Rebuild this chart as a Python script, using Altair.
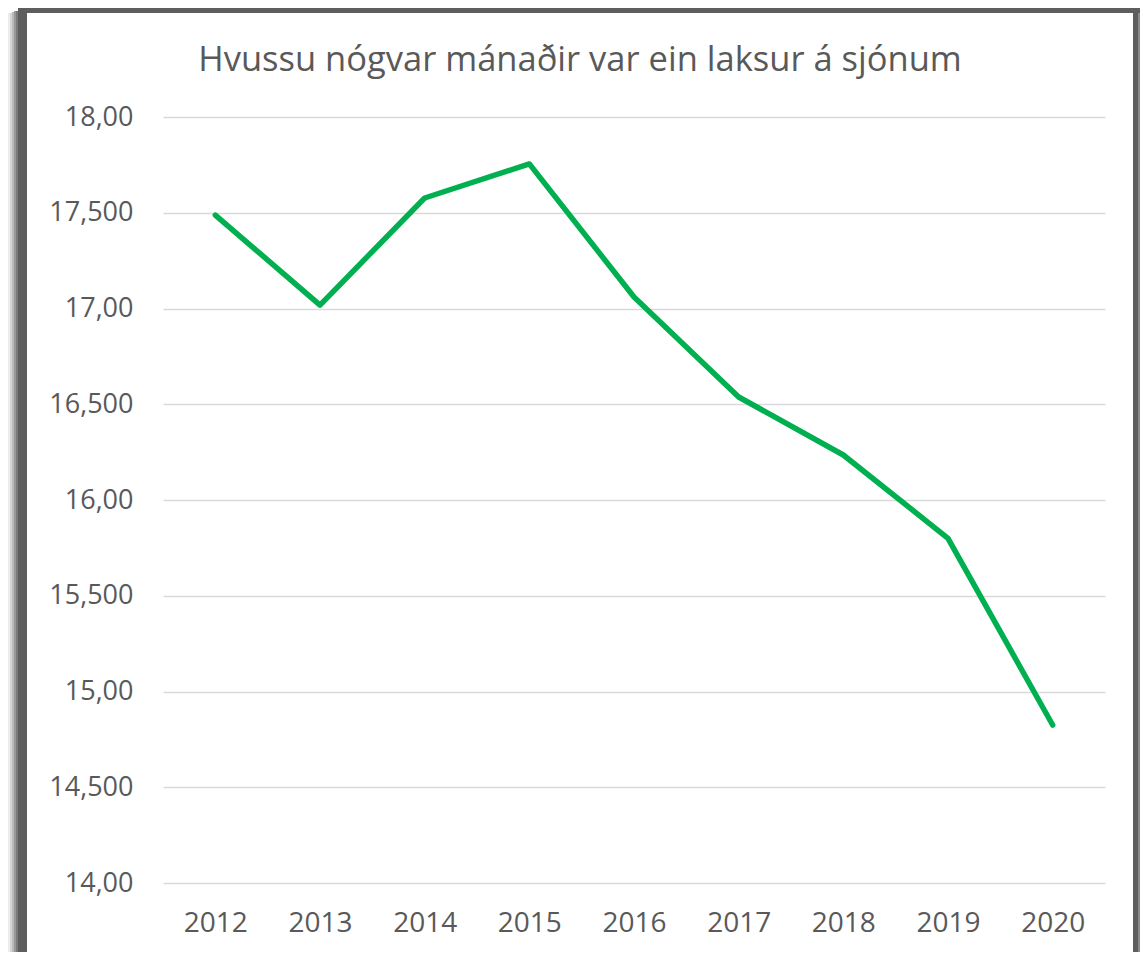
import altair as alt
import pandas as pd

years = ["2012", "2013", "2014", "2015", "2016", "2017", "2018", "2019", "2020"]
months = [17.488, 17.018, 17.577, 17.755, 17.06, 16.538, 16.235, 15.80, 14.825]
y_ticks = [14.0, 14.5, 15.0, 15.5, 16.0, 16.5, 17.0, 17.5, 18.0]
title_text = "Hvussu nógvar mánaðir var ein laksur á sjónum"

df = pd.DataFrame({"year": years, "months": months})

W, H = 942, 766
OX, OY = 163, 117  # plot origin on the page


def strip(x1, x2, y1, y2, color):
    # decorative frame strip, page coordinates converted to plot-relative pixels
    return alt.Chart(pd.DataFrame({"a": [0]})).mark_rect(color=color).encode(
        x=alt.value(x1 - OX), x2=alt.value(x2 - OX),
        y=alt.value(y1 - OY), y2=alt.value(y2 - OY),
    )


frame_layers = []
left_steps = [(8, 10, "#ececec"), (10, 12, "#d6d6d6"), (12, 14, "#b9b9b9"),
              (14, 16, "#989898"), (16, 18, "#7a7a7a"), (18, 27, "#5e5e5e")]
for a, b, c in left_steps:
    frame_layers.append(strip(a, b, 8 + (27 - b) // 3, 952, c))
right_steps = [(1133, 1138, "#5e5e5e"), (1138, 1140, "#8a8a8a")]
for a, b, c in right_steps:
    frame_layers.append(strip(a, b, 8, 952, c))
frame_layers.append(strip(18, 1140, 8, 13, "#5e5e5e"))

line = alt.Chart(df).mark_line(color="#00b050", strokeWidth=5.5, strokeCap="round", strokeJoin="round").encode(
    x=alt.X("year:O", title=None, sort=years,
            scale=alt.Scale(type="point", padding=0.5),
            axis=alt.Axis(labelAngle=0, ticks=False, tickSize=0, domain=False, grid=False,
                          labelFont="Open Sans", labelFontSize=28, labelColor="#595959",
                          labelBaseline="middle", labelPadding=40)),
    y=alt.Y("months:Q", title=None,
            scale=alt.Scale(domain=[14, 18], nice=False, zero=False),
            axis=alt.Axis(values=y_ticks, ticks=False, tickSize=0, domain=False,
                          grid=True, gridColor="#d9d9d9", gridWidth=1.5,
                          labelFont="Open Sans", labelFontSize=27, labelColor="#595959",
                          labelPadding=30,
                          labelExpr="datum.value % 1 == 0 ? format(datum.value, 'd') + ',00' : format(floor(datum.value), 'd') + ',500'")),
)

chart = alt.layer(*frame_layers, line).properties(
    width=W, height=H,
    title=alt.Title(title_text, font="Open Sans", fontSize=34.5, fontWeight="normal",
                    color="#595959", anchor="middle", frame="group", dx=-54,
                    baseline="alphabetic", offset=0, dy=97),
    autosize=alt.AutoSizeParams(type="none"),
    padding={"left": 155, "top": 109, "right": 35, "bottom": 69},
    view=alt.ViewBackground(stroke="transparent", strokeWidth=0, fill="white"),
).configure_view(stroke="transparent", strokeWidth=0).configure_axisX(
    grid=False, domain=False
).configure_axis(domainColor="transparent").configure(background="white")

chart.save("out.html", embed_options={"renderer": "svg", "actions": False})
